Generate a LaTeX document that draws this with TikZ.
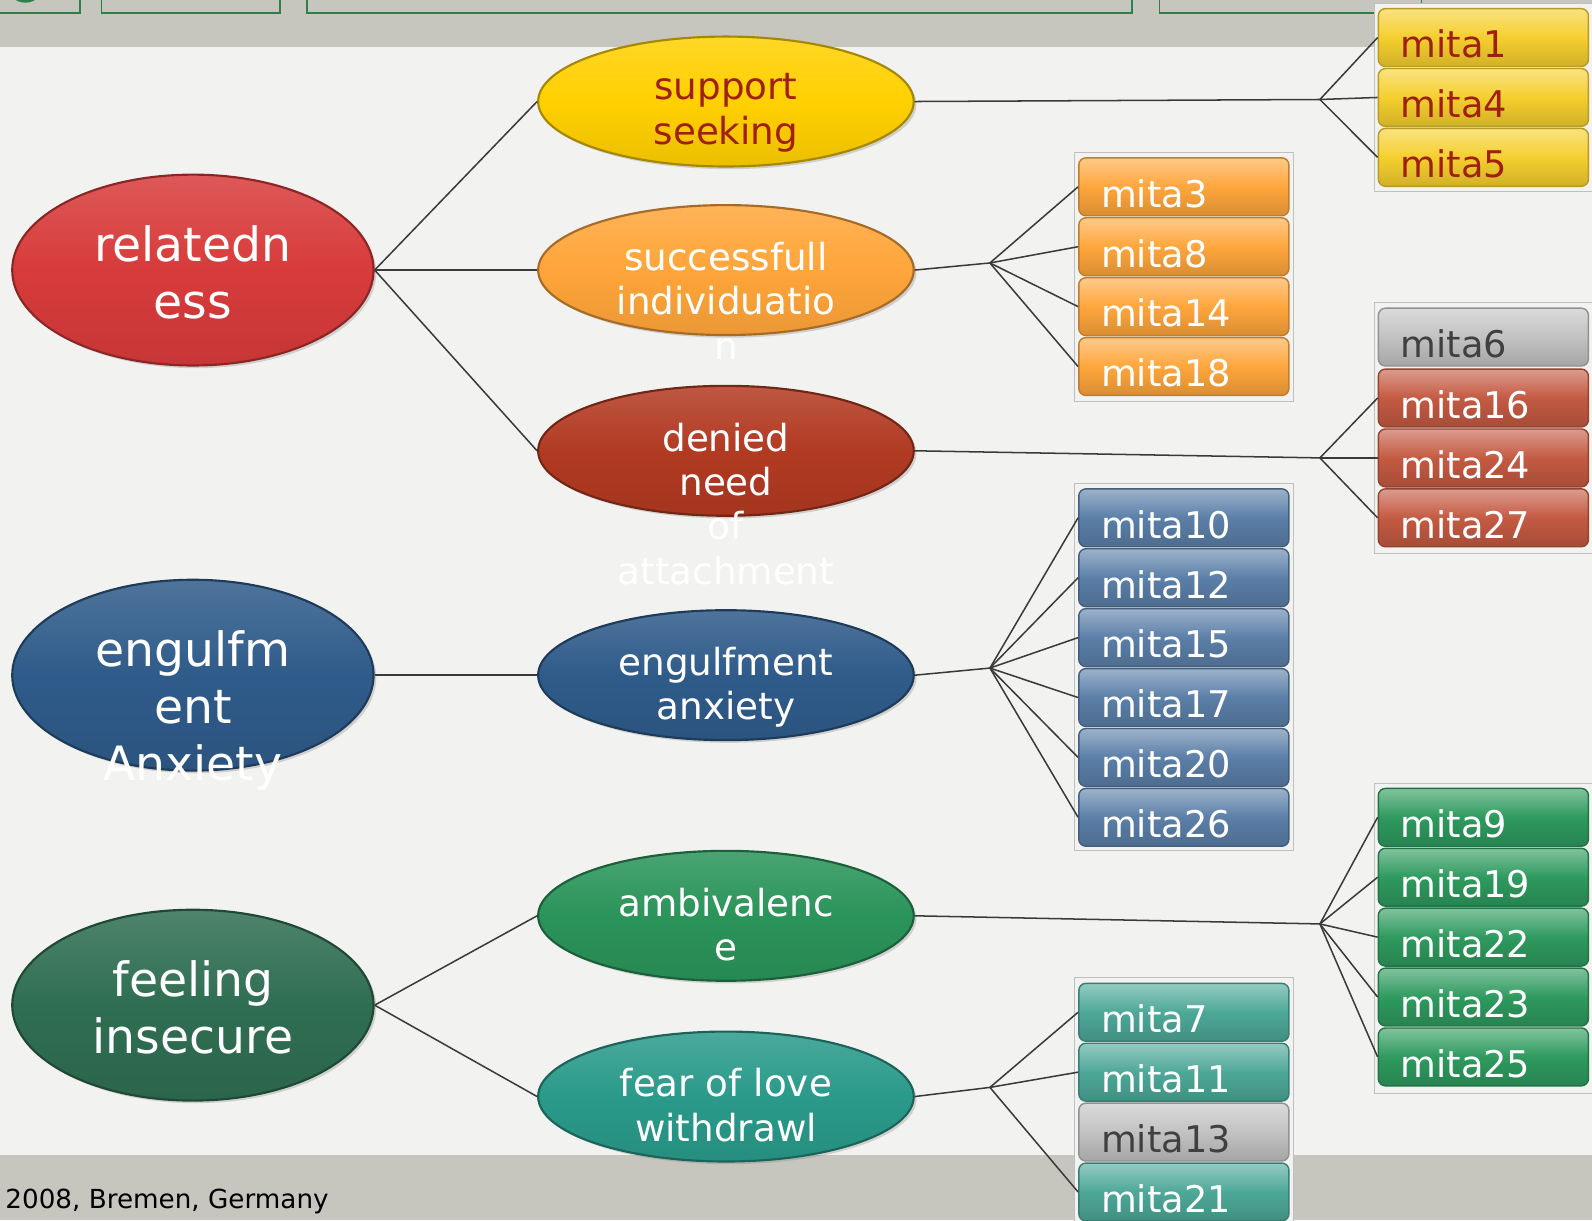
\documentclass[tikz,border=0pt]{standalone}
\usepackage{fontspec}
\setmainfont{DejaVu Sans}
\usetikzlibrary{shapes.geometric,shadows}

\definecolor{paper}{HTML}{F2F2F0}
\definecolor{bar}{HTML}{C6C6BE}
\definecolor{barline}{HTML}{2E8048}
\definecolor{relred}{HTML}{D83B3B}
\definecolor{engblue}{HTML}{2F5B8A}
\definecolor{insgreen}{HTML}{2F6E52}
\definecolor{suppyellow}{HTML}{FFD000}
\definecolor{indivorange}{HTML}{FFA53A}
\definecolor{deniedred}{HTML}{B23A22}
\definecolor{ambgreen}{HTML}{2A9459}
\definecolor{fearteal}{HTML}{2A9A8A}
\definecolor{boxyellow}{HTML}{F5CF2E}
\definecolor{boxorange}{HTML}{FFA63C}
\definecolor{boxgray}{HTML}{C2C2C2}
\definecolor{boxred}{HTML}{C45A42}
\definecolor{boxblue}{HTML}{5B7FA8}
\definecolor{boxgreen}{HTML}{2E9A5E}
\definecolor{boxteal}{HTML}{4DA898}
\definecolor{textred}{HTML}{A02010}
\definecolor{textgray}{HTML}{404040}
\definecolor{linkgray}{HTML}{3A3A3A}

\begin{document}
\begin{tikzpicture}[x=0.02cm,y=-0.02cm,
  big node/.style={ellipse,minimum width=7.12cm,minimum height=3.76cm,inner sep=0pt,draw=#1!65!black,line width=1.2pt,top color=#1!85!white,bottom color=#1!92!black,middle color=#1,drop shadow={opacity=0.3,shadow xshift=1.5pt,shadow yshift=-1.5pt}},
  mid node/.style={ellipse,minimum width=7.4cm,minimum height=2.56cm,inner sep=0pt,draw=#1!65!black,line width=1.2pt,top color=#1!85!white,bottom color=#1!92!black,middle color=#1,drop shadow={opacity=0.3,shadow xshift=1.5pt,shadow yshift=-1.5pt}},
  big text/.style={anchor=north,align=center,inner sep=0pt,text=white,font=\fontsize{26.5}{32}\selectfont},
  mid text/.style={anchor=north,align=center,inner sep=0pt,text=white,font=\fontsize{20.9}{24.9}\selectfont},
  item/.style={rectangle,rounded corners=4pt,inner xsep=0.44cm,inner ysep=0pt,text width=3.26cm,align=left,text height=0.97cm,text depth=0.17cm,draw=#1!75!black,line width=0.8pt,top color=#1!60!white,bottom color=#1!85!black,middle color=#1,text=white,font=\fontsize{20.6}{24}\selectfont},
  frame/.style={draw=black!25,line width=0.6pt,fill=paper},
  link/.style={draw=linkgray,line width=0.85pt}]

\useasboundingbox (0,0) rectangle (1568,1202);
\fill[paper] (0,0) rectangle (1568,1202);
\fill[bar] (0,0) rectangle (1568,46);
\fill[bar] (0,1138) rectangle (1568,1202);
\draw[barline,line width=1pt] (-5,-20) rectangle (79,13) (100,-20) rectangle (276,13) (302,-20) rectangle (1115,13) (1142,-20) rectangle (1400,13);
\draw[barline,line width=3pt] (25,-16) circle (16);
\node[anchor=west,inner sep=0pt,font=\fontsize{14.7}{17}\selectfont] (place) at (5,1183) {2008, Bremen, Germany};

\node[big node=relred] (rel) at (190,266) {};
\node[big node=engblue] (eng) at (190,665) {};
\node[big node=insgreen] (ins) at (190,990) {};

\node[mid node=suppyellow] (supp) at (715,100) {};
\node[mid node=indivorange] (indiv) at (715,266) {};
\node[mid node=deniedred] (denied) at (715,444) {};
\node[mid node=engblue] (engan) at (715,665) {};
\node[mid node=ambgreen] (amb) at (715,902) {};
\node[mid node=fearteal] (fear) at (715,1080) {};

\node[big text] (rel text) at ([yshift=0.88cm]rel.center) {relatedn\\ess};
\node[big text] (eng text) at ([yshift=0.88cm]eng.center) {engulfm\\ent\\Anxiety};
\node[big text] (ins text) at ([yshift=0.88cm]ins.center) {feeling\\insecure};
\node[mid text,text=textred] (supp text) at ([yshift=0.56cm]supp.center) {support\\seeking};
\node[mid text] (indiv text) at ([yshift=0.56cm]indiv.center) {successfull\\individuatio\\n};
\node[mid text] (denied text) at ([yshift=0.56cm]denied.center) {denied\\need\\of\\attachment};
\node[mid text] (engan text) at ([yshift=0.56cm]engan.center) {engulfment\\anxiety};
\node[mid text] (amb text) at ([yshift=0.56cm]amb.center) {ambivalenc\\e};
\node[mid text] (fear text) at ([yshift=0.56cm]fear.center) {fear of love\\withdrawl};

\draw[frame] (1354,3) rectangle (1572,189);
\draw[frame] (1354,298) rectangle (1572,545);
\draw[frame] (1354,772) rectangle (1572,1077);
\draw[frame] (1058,150) rectangle (1274,395);
\draw[frame] (1058,476) rectangle (1274,838);
\draw[frame] (1058,963) rectangle (1274,1230);

\foreach \n/\y in {1/37,4/96,5/155}
  \node[item=boxyellow,text=textred] (mita\n) at (1461,\y) {mita\n};
\node[item=boxgray,text=textgray] (mita6) at (1461,332) {mita6};
\foreach \n/\y in {16/392,24/451,27/510}
  \node[item=boxred] (mita\n) at (1461,\y) {mita\n};
\foreach \n/\y in {9/805,19/864,22/923,23/982,25/1041}
  \node[item=boxgreen] (mita\n) at (1461,\y) {mita\n};
\foreach \n/\y in {3/184,8/243,14/302,18/361}
  \node[item=boxorange] (mita\n) at (1166,\y) {mita\n};
\foreach \n/\y in {10/510,12/569,15/628,17/687,20/746,26/805}
  \node[item=boxblue] (mita\n) at (1166,\y) {mita\n};
\foreach \n/\y in {7/997,11/1056,21/1174}
  \node[item=boxteal] (mita\n) at (1166,\y) {mita\n};
\node[item=boxgray,text=textgray] (mita13) at (1166,1115) {mita13};

\coordinate (b1) at (1300,98);
\coordinate (b2) at (975,259);
\coordinate (b3) at (1300,451);
\coordinate (b4) at (975,658);
\coordinate (b5) at (1300,910);
\coordinate (b6) at (975,1071);

\path[link] (rel.east) edge (supp.west) edge (indiv.west) edge (denied.west);
\path[link] (eng.east) edge (engan.west);
\path[link] (ins.east) edge (amb.west) edge (fear.west);

\draw[link] (supp.east) -- (b1);
\draw[link] (indiv.east) -- (b2);
\draw[link] (denied.east) -- (b3);
\draw[link] (engan.east) -- (b4);
\draw[link] (amb.east) -- (b5);
\draw[link] (fear.east) -- (b6);
\foreach \n in {1,4,5} \draw[link] (b1) -- (mita\n.west);
\foreach \n in {3,8,14,18} \draw[link] (b2) -- (mita\n.west);
\foreach \n in {16,24,27} \draw[link] (b3) -- (mita\n.west);
\foreach \n in {10,12,15,17,20,26} \draw[link] (b4) -- (mita\n.west);
\foreach \n in {9,19,22,23,25} \draw[link] (b5) -- (mita\n.west);
\foreach \n in {7,11,21} \draw[link] (b6) -- (mita\n.west);
\end{tikzpicture}
\end{document}
